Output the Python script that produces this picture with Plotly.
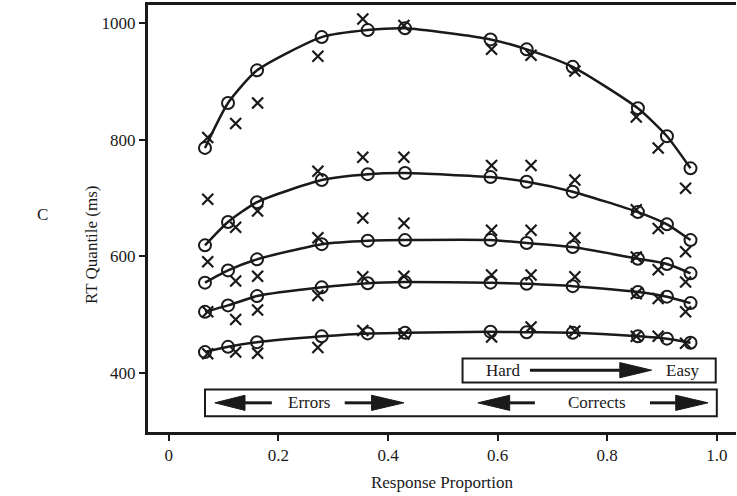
import plotly.graph_objects as go

# Response proportions (model circles and data X's)
p_model = [0.066, 0.108, 0.161, 0.279, 0.363, 0.431, 0.587, 0.653, 0.737, 0.856, 0.909, 0.952]
p_data = [0.071, 0.122, 0.162, 0.272, 0.354, 0.429, 0.589, 0.661, 0.741, 0.853, 0.893, 0.943]

# Model quantile RTs (circles, joined by lines)
m90 = [786, 863, 919, 976, 988, 991, 972, 955, 925, 854, 806, 751]
m70 = [619, 659, 693, 731, 741, 743, 736, 728, 711, 676, 655, 628]
m50 = [555, 576, 595, 621, 627, 628, 628, 623, 616, 596, 587, 571]
m30 = [505, 516, 532, 547, 554, 556, 555, 553, 549, 539, 531, 520]
m10 = [436, 445, 453, 463, 468, 469, 471, 470, 469, 463, 459, 452]

# Data quantile RTs (X markers)
d90 = [804, 828, 863, 943, 1007, 996, 955, 945, 918, 839, 786, 717]
d70 = [698, 650, 678, 746, 770, 770, 756, 756, 731, 680, 648, 608]
d50 = [591, 558, 566, 632, 666, 657, 645, 645, 632, 599, 577, 556]
d30 = [505, 492, 508, 533, 565, 566, 568, 568, 565, 536, 528, 505]
d10 = [433, 436, 434, 444, 473, 467, 462, 479, 472, 463, 463, 451]

x_ticks = [0, 0.2, 0.4, 0.6, 0.8, 1.0]
x_ticklabels = ["0", "0.2", "0.4", "0.6", "0.8", "1.0"]
y_ticks = [400, 600, 800, 1000]

INK = "#1a1a1a"
FONT = "Liberation Serif"

fig = go.Figure()
for m, d in [(m90, d90), (m70, d70), (m50, d50), (m30, d30), (m10, d10)]:
    fig.add_trace(go.Scatter(x=p_model, y=m, mode="lines+markers",
                             line=dict(color=INK, width=2.5, shape="spline", smoothing=0.6),
                             marker=dict(symbol="circle-open", size=12, color=INK,
                                         line=dict(width=2, color=INK)),
                             showlegend=False))
    fig.add_trace(go.Scatter(x=p_data, y=d, mode="markers",
                             marker=dict(symbol="x-thin-open", size=11, color=INK,
                                         line=dict(width=2.2, color=INK)),
                             showlegend=False))

shapes = []
def box(x0, x1, y0, y1):
    shapes.append(dict(type="rect", xref="x", yref="y", x0=x0, x1=x1, y0=y0, y1=y1,
                       line=dict(color=INK, width=2), fillcolor="rgba(0,0,0,0)"))

def arrow(x_tail, x_base, x_tip, y, h=13):
    shapes.append(dict(type="line", xref="x", yref="y", x0=x_tail, x1=x_base, y0=y, y1=y,
                       line=dict(color=INK, width=3)))
    shapes.append(dict(type="path", xref="x", yref="y",
                       path=f"M {x_tip},{y} L {x_base},{y + h} L {x_base},{y - h} Z",
                       fillcolor=INK, line=dict(color=INK, width=1)))

# Hard -> Easy box
box(0.536, 0.998, 384, 425)
arrow(0.659, 0.823, 0.881, 405)
# Errors / Corrects box
box(0.066, 1.0, 326, 372)
arrow(0.188, 0.139, 0.084, 349)
arrow(0.321, 0.370, 0.429, 349)
arrow(0.668, 0.622, 0.564, 349)
arrow(0.878, 0.925, 0.984, 349)

annotations = [
    dict(x=0.609, y=405, text="Hard", xref="x", yref="y", showarrow=False,
         font=dict(family=FONT, size=17, color=INK)),
    dict(x=0.938, y=405, text="Easy", xref="x", yref="y", showarrow=False,
         font=dict(family=FONT, size=17, color=INK)),
    dict(x=0.255, y=349, text="Errors", xref="x", yref="y", showarrow=False,
         font=dict(family=FONT, size=17, color=INK)),
    dict(x=0.781, y=349, text="Corrects", xref="x", yref="y", showarrow=False,
         font=dict(family=FONT, size=17, color=INK)),
    dict(x=-0.18, y=0.51, text="C", xref="paper", yref="paper", showarrow=False,
         xanchor="center", yanchor="middle",
         font=dict(family=FONT, size=17, color=INK)),
    dict(x=-0.097, y=0.44, text="RT Quantile (ms)", xref="paper", yref="paper",
         showarrow=False, textangle=-90, xanchor="center", yanchor="middle",
         font=dict(family=FONT, size=17, color=INK)),
]

fig.update_layout(
    width=737, height=496,
    margin=dict(l=148, r=1, t=5, b=64),
    paper_bgcolor="white", plot_bgcolor="white",
    font=dict(family=FONT, size=17, color=INK),
    shapes=shapes, annotations=annotations,
    xaxis=dict(range=[-0.038, 1.035], tickvals=x_ticks, ticktext=x_ticklabels,
               showgrid=False, zeroline=False, showline=True, linewidth=3, linecolor=INK,
               mirror=True, ticks="outside", ticklen=6, tickwidth=2, tickcolor=INK,
               tickfont=dict(family=FONT, size=17, color=INK),
               title=dict(text="Response Proportion", font=dict(family=FONT, size=17), standoff=12)),
    yaxis=dict(range=[299, 1031], tickvals=y_ticks,
               showgrid=False, zeroline=False, showline=True, linewidth=3, linecolor=INK,
               ticks="outside", ticklen=6, tickwidth=2, tickcolor=INK,
               tickfont=dict(family=FONT, size=17, color=INK)),
)

fig.write_html("out.html")
